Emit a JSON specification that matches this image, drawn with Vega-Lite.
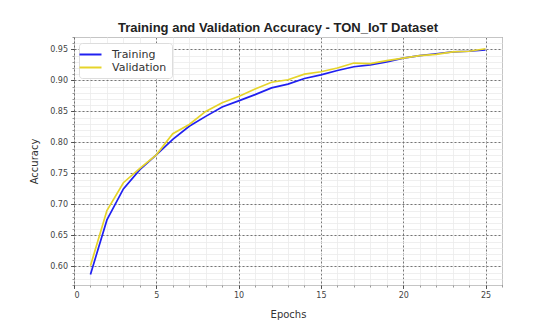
{
  "$schema": "https://vega.github.io/schema/vega-lite/v6.json",
  "width": 428,
  "height": 248,
  "autosize": "none",
  "padding": {"left": 74, "top": 37, "right": 53, "bottom": 49},
  "background": "white",
  "title": {
    "text": "Training and Validation Accuracy - TON_IoT Dataset",
    "font": "Liberation Sans",
    "fontSize": 13,
    "fontWeight": "bold",
    "color": "#222",
    "anchor": "middle",
    "dx": -10,
    "offset": 2
  },
  "config": {
    "view": {"stroke": "#333", "strokeWidth": 1},
    "axis": {"labelFont": "DejaVu Sans", "titleFont": "DejaVu Sans"}
  },
  "data": {
    "values": [
      {"epoch": 1, "series": "Training", "accuracy": 0.587},
      {"epoch": 2, "series": "Training", "accuracy": 0.675},
      {"epoch": 3, "series": "Training", "accuracy": 0.725},
      {"epoch": 4, "series": "Training", "accuracy": 0.756},
      {"epoch": 5, "series": "Training", "accuracy": 0.780},
      {"epoch": 6, "series": "Training", "accuracy": 0.805},
      {"epoch": 7, "series": "Training", "accuracy": 0.826},
      {"epoch": 8, "series": "Training", "accuracy": 0.842},
      {"epoch": 9, "series": "Training", "accuracy": 0.857},
      {"epoch": 10, "series": "Training", "accuracy": 0.867},
      {"epoch": 11, "series": "Training", "accuracy": 0.877},
      {"epoch": 12, "series": "Training", "accuracy": 0.888},
      {"epoch": 13, "series": "Training", "accuracy": 0.894},
      {"epoch": 14, "series": "Training", "accuracy": 0.903},
      {"epoch": 15, "series": "Training", "accuracy": 0.909},
      {"epoch": 16, "series": "Training", "accuracy": 0.916},
      {"epoch": 17, "series": "Training", "accuracy": 0.922},
      {"epoch": 18, "series": "Training", "accuracy": 0.925},
      {"epoch": 19, "series": "Training", "accuracy": 0.930},
      {"epoch": 20, "series": "Training", "accuracy": 0.936},
      {"epoch": 21, "series": "Training", "accuracy": 0.940},
      {"epoch": 22, "series": "Training", "accuracy": 0.943},
      {"epoch": 23, "series": "Training", "accuracy": 0.946},
      {"epoch": 24, "series": "Training", "accuracy": 0.947},
      {"epoch": 25, "series": "Training", "accuracy": 0.949},
      {"epoch": 1, "series": "Validation", "accuracy": 0.601},
      {"epoch": 2, "series": "Validation", "accuracy": 0.690},
      {"epoch": 3, "series": "Validation", "accuracy": 0.735},
      {"epoch": 4, "series": "Validation", "accuracy": 0.758},
      {"epoch": 5, "series": "Validation", "accuracy": 0.780},
      {"epoch": 6, "series": "Validation", "accuracy": 0.814},
      {"epoch": 7, "series": "Validation", "accuracy": 0.829},
      {"epoch": 8, "series": "Validation", "accuracy": 0.850},
      {"epoch": 9, "series": "Validation", "accuracy": 0.864},
      {"epoch": 10, "series": "Validation", "accuracy": 0.874},
      {"epoch": 11, "series": "Validation", "accuracy": 0.886},
      {"epoch": 12, "series": "Validation", "accuracy": 0.897},
      {"epoch": 13, "series": "Validation", "accuracy": 0.901},
      {"epoch": 14, "series": "Validation", "accuracy": 0.910},
      {"epoch": 15, "series": "Validation", "accuracy": 0.914},
      {"epoch": 16, "series": "Validation", "accuracy": 0.920},
      {"epoch": 17, "series": "Validation", "accuracy": 0.928},
      {"epoch": 18, "series": "Validation", "accuracy": 0.927},
      {"epoch": 19, "series": "Validation", "accuracy": 0.932},
      {"epoch": 20, "series": "Validation", "accuracy": 0.936},
      {"epoch": 21, "series": "Validation", "accuracy": 0.940},
      {"epoch": 22, "series": "Validation", "accuracy": 0.942},
      {"epoch": 23, "series": "Validation", "accuracy": 0.946},
      {"epoch": 24, "series": "Validation", "accuracy": 0.947},
      {"epoch": 25, "series": "Validation", "accuracy": 0.951}
    ]
  },
  "layer": [
    {
      "mark": {"type": "point", "opacity": 0},
      "encoding": {
        "x": {
          "field": "epoch", "type": "quantitative",
          "scale": {"domain": [0, 26], "nice": false, "zero": false},
          "axis": {
            "orient": "bottom",
            "values": [0,1,2,3,4,5,6,7,8,9,10,11,12,13,14,15,16,17,18,19,20,21,22,23,24,25,26],
            "labels": false, "title": null, "domain": false,
            "grid": true, "gridColor": "#ebebeb", "gridWidth": 0.8,
            "ticks": true, "tickSize": 2, "tickColor": "#555", "tickWidth": 0.6
          }
        },
        "y": {
          "field": "accuracy", "type": "quantitative",
          "scale": {"domain": [0.57, 0.97], "nice": false, "zero": false},
          "axis": {
            "orient": "left",
            "values": [0.57,0.58,0.59,0.60,0.61,0.62,0.63,0.64,0.65,0.66,0.67,0.68,0.69,0.70,0.71,0.72,0.73,0.74,0.75,0.76,0.77,0.78,0.79,0.80,0.81,0.82,0.83,0.84,0.85,0.86,0.87,0.88,0.89,0.90,0.91,0.92,0.93,0.94,0.95,0.96,0.97],
            "labels": false, "title": null, "domain": false,
            "grid": true, "gridColor": "#ebebeb", "gridWidth": 0.8,
            "ticks": true, "tickSize": 2, "tickColor": "#555", "tickWidth": 0.6
          }
        }
      }
    },
    {
      "mark": {"type": "line", "strokeWidth": 1.7},
      "encoding": {
        "x": {
          "field": "epoch", "type": "quantitative",
          "scale": {"domain": [0, 26], "nice": false, "zero": false},
          "axis": {
            "orient": "bottom",
            "values": [0, 5, 10, 15, 20, 25],
            "title": "Epochs", "titleFontSize": 10, "titleFontWeight": "normal", "titleColor": "#333", "titlePadding": 10,
            "labelFontSize": 8, "labelColor": "#444", "labelPadding": 3,
            "domain": false,
            "grid": true, "gridColor": "#555", "gridDash": [2, 2], "gridWidth": 0.8,
            "tickSize": 3.5, "tickColor": "#333", "tickWidth": 0.8
          }
        },
        "y": {
          "field": "accuracy", "type": "quantitative",
          "scale": {"domain": [0.57, 0.97], "nice": false, "zero": false},
          "axis": {
            "orient": "left",
            "values": [0.60, 0.65, 0.70, 0.75, 0.80, 0.85, 0.90, 0.95],
            "format": ".2f",
            "title": "Accuracy", "titleFontSize": 10, "titleFontWeight": "normal", "titleColor": "#333", "titlePadding": 10,
            "labelFontSize": 8, "labelColor": "#444", "labelPadding": 3,
            "domain": false,
            "grid": true, "gridColor": "#555", "gridDash": [2, 2], "gridWidth": 0.8,
            "tickSize": 3.5, "tickColor": "#333", "tickWidth": 0.8
          }
        },
        "color": {
          "field": "series", "type": "nominal",
          "scale": {"domain": ["Training", "Validation"], "range": ["#2020f0", "#e6d42a"]},
          "legend": {
            "orient": "none", "legendX": 5, "legendY": 6,
            "title": null,
            "symbolType": "M-2,0H2", "symbolSize": 121, "symbolStrokeWidth": 2,
            "labelFont": "DejaVu Sans", "labelFontSize": 11, "labelColor": "#333", "labelOffset": 15,
            "rowPadding": 1, "padding": 5,
            "fillColor": "white", "strokeColor": "#ddd", "cornerRadius": 3
          }
        }
      }
    }
  ],
  "resolve": {"axis": {"x": "independent", "y": "independent"}}
}
